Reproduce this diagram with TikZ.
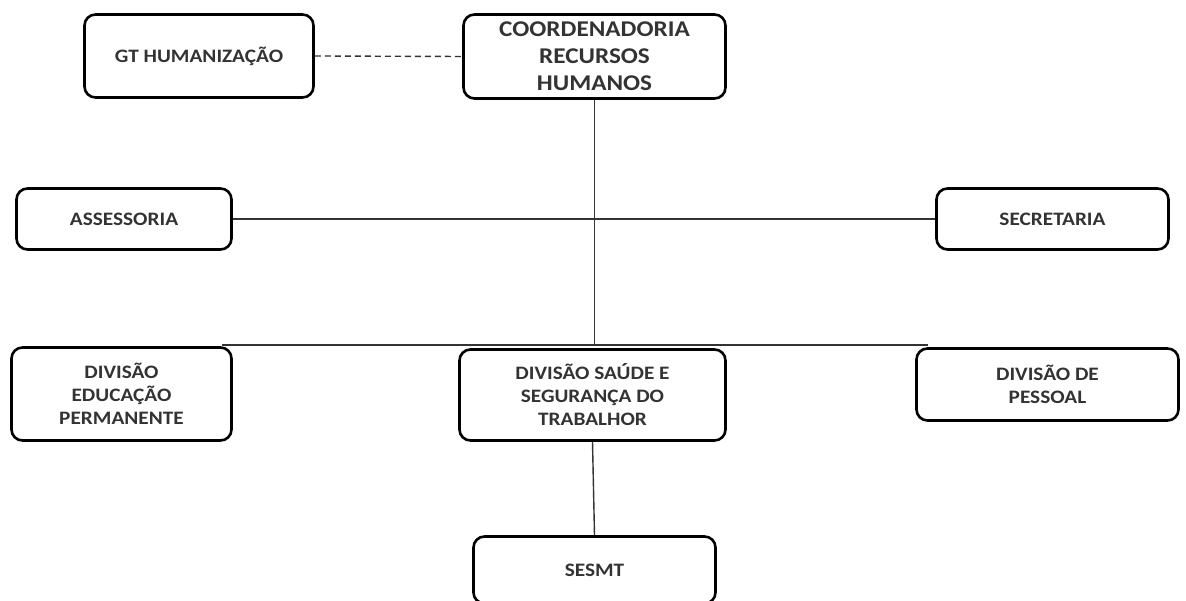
\documentclass[tikz,border=0pt]{standalone}
\usepackage{fontspec}
\newfontfamily\boxfont{Carlito}[FakeStretch=1.12]
\begin{document}
\begin{tikzpicture}[x=1pt,y=-1pt,
  orgbox/.style={draw=black, line width=2.6pt, rounded corners=11pt, align=center,
    inner sep=0pt, text=black!80, font=\boxfont\bfseries\fontsize{19}{23}\selectfont},
  bigtext/.style={font=\boxfont\bfseries\fontsize{22.5}{27}\selectfont},
  conn/.style={draw=black!80, line width=1.4pt},
  dashconn/.style={draw=black!80, line width=1.4pt, dash pattern=on 6pt off 4pt}]
\useasboundingbox (0,0) rectangle (1186,601);
\clip (0,0) rectangle (1186,601);
\node[orgbox, minimum width=229pt, minimum height=83pt] (gt) at (199,56) {GT HUMANIZAÇÃO};
\node[orgbox, bigtext, minimum width=262pt, minimum height=84pt] (coord) at (594.5,56.5) {COORDENADORIA\\RECURSOS\\HUMANOS};
\node[orgbox, minimum width=215pt, minimum height=61pt] (assess) at (124,219) {ASSESSORIA};
\node[orgbox, minimum width=232pt, minimum height=61pt] (secr) at (1052.5,219) {SECRETARIA};
\node[orgbox, minimum width=220pt, minimum height=93pt] (educ) at (121.5,394) {DIVISÃO\\EDUCAÇÃO\\PERMANENTE};
\node[orgbox, minimum width=266pt, minimum height=91pt] (saude) at (592.5,395) {DIVISÃO SAÚDE E\\SEGURANÇA DO\\TRABALHOR};
\node[orgbox, minimum width=262pt, minimum height=72pt] (pessoal) at (1047.5,384.5) {DIVISÃO DE\\PESSOAL};
\node[orgbox, minimum width=242pt, minimum height=67pt] (sesmt) at (594.5,570) {SESMT};
\coordinate (hl) at (222,345);
\coordinate (hr) at (928,345);
\coordinate (jn) at (594.5,345);
\draw[dashconn] (gt.east) -- (coord.west);
\draw[conn] (coord.south) -- (jn);
\draw[conn] (assess.east) -- (secr.west);
\draw[conn] (hl) -- (hr);
\draw[conn] (saude.south) -- (sesmt.north);
\end{tikzpicture}
\end{document}
